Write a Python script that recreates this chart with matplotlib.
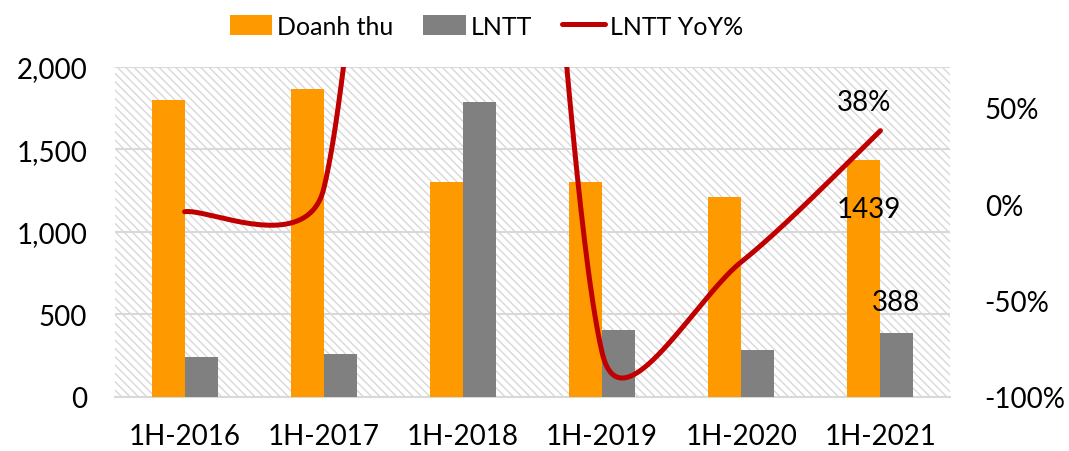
import numpy as np
import matplotlib
matplotlib.use("Agg")
import matplotlib.pyplot as plt
from matplotlib.patches import Patch, Rectangle
from matplotlib.lines import Line2D

categories = ["1H-2016", "1H-2017", "1H-2018", "1H-2019", "1H-2020", "1H-2021"]
doanh_thu = [1801, 1867, 1300, 1300, 1210, 1439]
lntt = [242, 261, 1790, 405, 282, 388]
lntt_yoy = [-4, 8, 586, -77, -30, 38]  # percent

plt.rcParams['font.family'] = ['Lato', 'DejaVu Sans']
plt.rcParams['hatch.linewidth'] = 1.0
plt.rcParams['hatch.color'] = '#d8d8d8'

ORANGE = '#FF9900'
GRAY = '#808080'
RED = '#C00000'
FS = 20

fig = plt.figure(figsize=(10.69, 4.52), dpi=100)
ax = fig.add_axes([0.1076, 0.1195, 0.7811, 0.7301])
ax2 = ax.twinx()

# hatched background
bg = Rectangle((0, 0), 1, 1, transform=ax.transAxes, facecolor='white',
               edgecolor='#d8d8d8', linewidth=0, hatch='\\\\\\\\', zorder=0)
ax.add_patch(bg)

x = np.arange(len(categories))
w = 0.237
ax.bar(x - w / 2, doanh_thu, width=w, color=ORANGE, zorder=3)
ax.bar(x + w / 2, lntt, width=w, color=GRAY, zorder=3)

ax.set_xlim(-0.5, len(categories) - 0.5)
ax.set_ylim(0, 2000)
ax.set_yticks([0, 500, 1000, 1500, 2000])
ax.set_yticklabels([f"{v:,}" for v in [0, 500, 1000, 1500, 2000]])
ax.set_xticks(x)
ax.set_xticklabels(categories)
ax.grid(axis='y', color='#d9d9d9', linewidth=1.5, zorder=1)
ax.set_axisbelow(True)
for s in ['top', 'right', 'left']:
    ax.spines[s].set_visible(False)
ax.spines['bottom'].set_color('#d9d9d9')
ax.spines['bottom'].set_linewidth(1.5)
ax.tick_params(axis='both', length=0, labelsize=FS, colors='black')
ax.tick_params(axis='x', pad=19, labelsize=20)
ax.tick_params(axis='y', pad=20)

ax2.set_ylim(-100, 71)
ax2.set_yticks([-100, -50, 0, 50])
ax2.set_yticklabels([f"{v}%" for v in [-100, -50, 0, 50]])
for s in ax2.spines.values():
    s.set_visible(False)
ax2.tick_params(axis='y', length=0, labelsize=FS, pad=25)

# smoothed line (Excel-like Bezier, computed in display space)
P = ax2.transData.transform(np.column_stack([x.astype(float),
                                             np.array(lntt_yoy, dtype=float)]))
n = len(P)
curve = []
ts = np.linspace(0, 1, 120)
for i in range(n - 1):
    p0 = P[max(i - 1, 0)]
    p1 = P[i]
    p2 = P[i + 1]
    p3 = P[min(i + 2, n - 1)]
    d12 = np.linalg.norm(p2 - p1)
    t1 = p2 - p0
    t2 = p3 - p1
    f = 1 / 6.0
    g = 1 / 6.0
    if np.linalg.norm(t1) / 6 > d12 / 2:
        f = d12 / (2 * np.linalg.norm(t1))
    if np.linalg.norm(t2) / 6 > d12 / 2:
        g = d12 / (2 * np.linalg.norm(t2))
    c1 = p1 + t1 * f
    c2 = p2 - t2 * g
    for t in ts:
        b = ((1 - t) ** 3) * p1 + 3 * ((1 - t) ** 2) * t * c1 + 3 * (1 - t) * t * t * c2 + t ** 3 * p2
        curve.append(b)
curve = ax2.transData.inverted().transform(np.array(curve))
ax2.plot(curve[:, 0], curve[:, 1], color=RED, linewidth=3.6,
         solid_capstyle='round', zorder=4)

# data labels
ax2.annotate(f"{lntt_yoy[-1]}%", (x[-1], lntt_yoy[-1]), xytext=(-12, 11),
             textcoords='offset points', ha='center', va='bottom', fontsize=FS)
ax.annotate(f"{doanh_thu[-1]}", (x[-1], doanh_thu[-1]), xytext=(-8, -26),
            textcoords='offset points', ha='center', va='top', fontsize=FS, zorder=6)
ax.annotate(f"{lntt[-1]}", (x[-1] + w / 2, lntt[-1]), xytext=(-1, 13),
            textcoords='offset points', ha='center', va='bottom', fontsize=FS, zorder=6)

handles = [Patch(facecolor=ORANGE, label='Doanh thu'),
           Patch(facecolor=GRAY, label='LNTT'),
           Line2D([0], [0], color=RED, linewidth=3.6, solid_capstyle='round', label='LNTT YoY%')]
fig.legend(handles=handles, loc='center', bbox_to_anchor=(0.455, 0.94), ncol=3,
           frameon=False, fontsize=18, handlelength=1.7, handleheight=0.9,
           columnspacing=1.2, handletextpad=0.2)

fig.savefig('out.png', dpi=100)
